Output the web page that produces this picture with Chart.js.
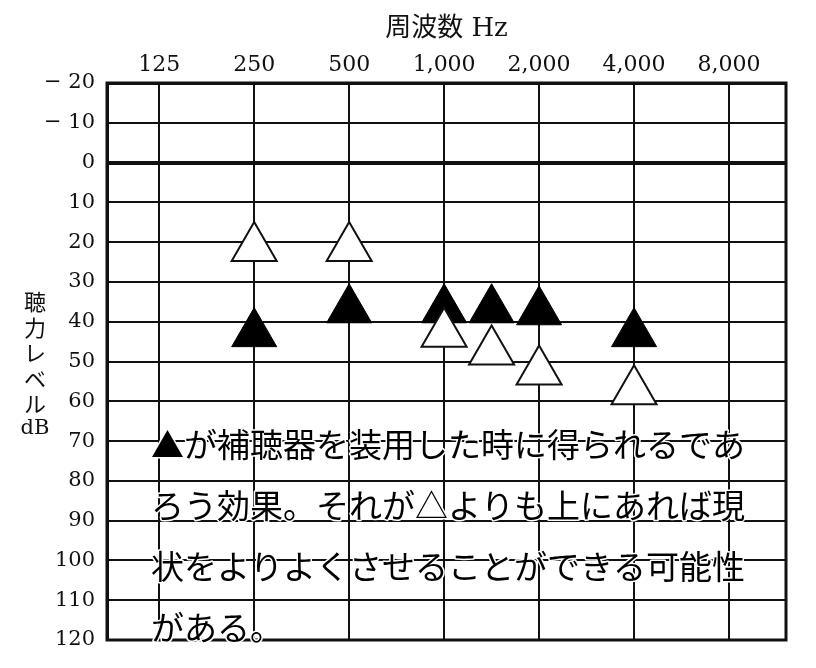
<!DOCTYPE html>
<html>
<head>
<meta charset="utf-8">
<title>聴力レベル</title>
<script src="https://cdn.jsdelivr.net/npm/chart.js@4.4.0/dist/chart.umd.min.js"></script>
<style>
    body { margin: 0; background: #fff; }
    #wrap { width: 816px; height: 668px; }
</style>
</head>
<body>
<div id="wrap"><canvas id="audiogram"></canvas></div>
<script>
// frequency axis (one tick per octave)
const freqLabels = ['125', '250', '500', '1,000', '2,000', '4,000', '8,000'];

// measured points
const measuredFreqs = [250, 500, 1000, 1500, 2000, 4000];
const aidedDb = [43, 37, 37, 37, 37.5, 43];              // ▲ with hearing aid
const unaidedDb = [21.5, 21.5, 43, 47.5, 52.5, 57.5];    // △ current

const dbMin = -20;
const dbMax = 120;

const yTitleChars = ['聴', '力', 'レ', 'ベ', 'ル', 'dB'];
const noteLines = [
    '▲が補聴器を装用した時に得られるであ',
    'ろう効果。それが△よりも上にあれば現',
    '状をよりよくさせることができる可能性',
    'がある。'
];

const serif = '"DejaVu Serif", "Liberation Serif", "Noto Sans CJK JP", serif';

// 125 Hz = 0, 250 Hz = 1 ... half octaves for 1,500 etc.
function octave(f) {
    return Math.round(2 * Math.log2(f / 125)) / 2;
}

function toPoints(values) {
    return measuredFreqs.map((f, i) => ({ x: octave(f), y: values[i] }));
}

const overlayText = {
    id: 'overlayText',
    beforeDatasetsDraw(chart) {
        const ctx = chart.ctx;
        const a = chart.chartArea;
        ctx.save();
        ctx.strokeStyle = '#111';
        ctx.lineWidth = 3;
        ctx.strokeRect(a.left, a.top, a.right - a.left, a.bottom - a.top);
        ctx.restore();
    },
    afterDraw(chart) {
        const ctx = chart.ctx;
        ctx.save();

        // vertical y title
        ctx.fillStyle = '#111';
        ctx.textAlign = 'center';
        ctx.textBaseline = 'middle';
        yTitleChars.forEach((c, i) => {
            ctx.font = c === 'dB' ? '21px ' + serif : '22px "Noto Sans CJK JP"';
            ctx.fillText(c, 35, 302 + i * 25.4);
        });

        // note over the chart
        ctx.font = '33px "Noto Sans CJK JP"';
        ctx.textAlign = 'left';
        ctx.lineJoin = 'round';
        ctx.lineWidth = 3;
        ctx.strokeStyle = '#fff';
        ctx.fillStyle = '#000';
        noteLines.forEach((line, i) => {
            const y = 444 + i * 61;
            ctx.strokeText(line, 151, y);
            ctx.fillText(line, 151, y);
        });
        ctx.restore();
    }
};

const ctx = document.getElementById('audiogram').getContext('2d');
const audiogram = new Chart(ctx, {
    type: 'scatter',
    data: {
        datasets: [
            {
                label: '△',
                data: toPoints(unaidedDb),
                pointStyle: 'triangle',
                pointRadius: 26,
                pointHoverRadius: 26,
                backgroundColor: '#fff',
                borderColor: '#111',
                borderWidth: 2
            },
            {
                label: '▲',
                data: toPoints(aidedDb),
                pointStyle: 'triangle',
                pointRadius: 26,
                pointHoverRadius: 26,
                backgroundColor: '#000',
                borderColor: '#000',
                borderWidth: 1
            }
        ]
    },
    options: {
        responsive: true,
        maintainAspectRatio: false,
        animation: false,
        layout: { padding: { top: 0, left: 0, right: 30, bottom: 27 } },
        plugins: {
            legend: { display: false },
            tooltip: { enabled: false }
        },
        scales: {
            x: {
                type: 'linear',
                position: 'top',
                min: -0.55,
                max: 6.6,
                afterBuildTicks: scale => {
                    scale.ticks = freqLabels.map((_, i) => ({ value: i }));
                },
                afterFit: scale => { scale.height = 83; },
                ticks: {
                    padding: 5,
                    color: '#111',
                    font: { family: serif, size: 22 },
                    callback: value => freqLabels[value]
                },
                grid: { color: '#111', lineWidth: 2, drawTicks: false },
                border: { color: '#111', width: 3 },
                title: {
                    display: true,
                    text: '周波数 Hz',
                    color: '#111',
                    font: { family: serif, size: 26 },
                    padding: { top: 14, bottom: 0 }
                }
            },
            y: {
                reverse: true,
                min: dbMin,
                max: dbMax,
                afterFit: scale => { scale.width = 107; },
                ticks: {
                    stepSize: 10,
                    padding: 12,
                    color: '#111',
                    font: { family: serif, size: 21 },
                    callback: value => value < 0 ? '− ' + Math.abs(value) : value
                },
                grid: {
                    color: '#111',
                    drawTicks: false,
                    lineWidth: c => c.tick && c.tick.value === 0 ? 4 : 2
                },
                border: { color: '#111', width: 3 }
            }
        }
    },
    plugins: [overlayText]
});
</script>
</body>
</html>
